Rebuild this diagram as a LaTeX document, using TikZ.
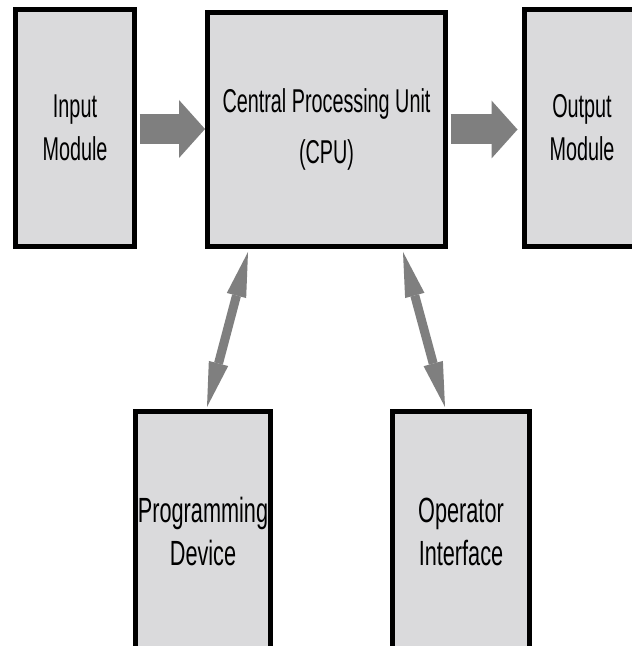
\documentclass[tikz,border=0pt]{standalone}
\usepackage{fontspec}
\setmainfont{Liberation Sans}[FakeStretch=0.6]
\newfontfamily\botfam{Liberation Sans}[FakeStretch=0.62]
\usetikzlibrary{arrows.meta,calc}
\definecolor{boxfill}{HTML}{DADADC}
\definecolor{arrowgray}{HTML}{7F7F7F}
\newcommand{\raisedtwo}[2]{\raisebox{9pt}{\begin{tabular}{@{}c@{}}#1\\#2\end{tabular}}}
\begin{document}
\begin{tikzpicture}[x=1pt,y=1pt,
  blk/.style={draw=black, line width=5pt, fill=boxfill, align=center, inner sep=0pt},
  toptext/.style={font=\fontsize{33}{43}\selectfont},
  cputext/.style={font=\fontsize{33}{51}\selectfont},
  bottext/.style={font=\botfam\fontsize{35}{43}\selectfont},
  fatarrow/.style={arrowgray, line width=30pt, -{Triangle[length=26pt,width=58pt,line width=0pt]}},
  dblarrow/.style={arrowgray, line width=9pt,
    {Triangle[length=45pt,width=20pt,line width=0pt]}-{Triangle[length=45pt,width=20pt,line width=0pt]}}]
\useasboundingbox (0,0) rectangle (632,646);
\clip (0,0) rectangle (632,646);
\fill[white] (0,0) rectangle (632,646);
\node[blk, toptext, minimum width=119pt, minimum height=237pt] (in) at (75,518) {Input\\Module};
\node[blk, cputext, minimum width=238pt, minimum height=234pt] (cpu) at (326.5,516.5) {Central Processing Unit\\(CPU)};
\node[blk, toptext, minimum width=115pt, minimum height=237pt] (out) at (582,518) {Output\\Module};
\node[blk, bottext, minimum width=135pt, minimum height=247pt] (prog) at (203,111) {\raisedtwo{Programming}{Device}};
\node[blk, bottext, minimum width=137pt, minimum height=247pt] (op) at (461,111) {\raisedtwo{Operator}{Interface}};
\draw[fatarrow] ([xshift=2.5pt,yshift=-1pt]in.east) -- ([yshift=0.5pt]cpu.west);
\draw[fatarrow] ([xshift=2.5pt]cpu.east) -- ([xshift=-4.5pt,yshift=-1.5pt]out.west);
\draw[dblarrow] ([xshift=4pt,yshift=2pt]prog.north) -- ([xshift=-78.5pt,yshift=-3pt]cpu.south);
\draw[dblarrow] ([xshift=-16pt,yshift=2pt]op.north) -- ([xshift=76.5pt,yshift=-3pt]cpu.south);
\end{tikzpicture}
\end{document}
